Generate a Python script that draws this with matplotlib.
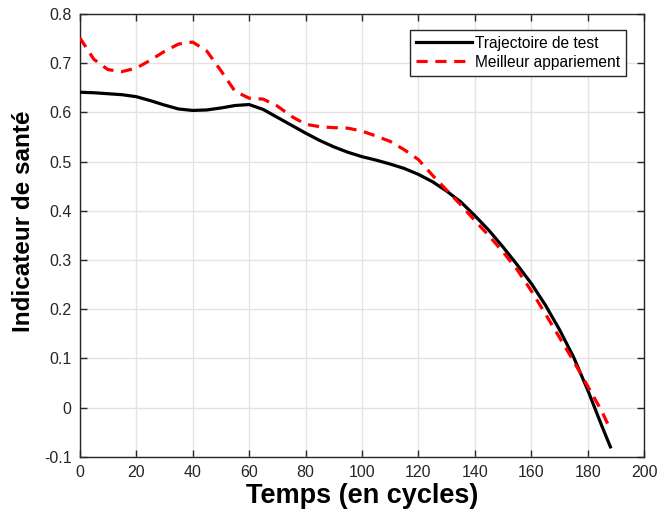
import matplotlib
matplotlib.use("Agg")
import matplotlib.pyplot as plt

plt.rcParams['font.family'] = ['Liberation Sans', 'DejaVu Sans']

x_test = [0, 5, 10, 15, 20, 25, 30, 35, 40, 45, 50, 55, 60, 65, 70, 75, 80, 85, 90, 95,
          100, 105, 110, 115, 120, 125, 130, 135, 140, 145, 150, 155, 160, 165, 170, 175,
          180, 185, 188]
y_test = [0.641, 0.640, 0.638, 0.636, 0.632, 0.624, 0.615, 0.607, 0.604, 0.605, 0.609,
          0.614, 0.616, 0.606, 0.590, 0.574, 0.558, 0.543, 0.530, 0.519, 0.510, 0.503,
          0.495, 0.486, 0.474, 0.459, 0.440, 0.418, 0.390, 0.360, 0.326, 0.290, 0.252,
          0.208, 0.158, 0.102, 0.035, -0.038, -0.080]

x_match = [0, 5, 10, 15, 20, 25, 30, 35, 40, 45, 50, 55, 60, 65, 70, 75, 80, 85, 90, 95,
           100, 105, 110, 115, 120, 125, 130, 135, 140, 145, 150, 155, 160, 165, 170, 175,
           180, 185, 188]
y_match = [0.752, 0.708, 0.687, 0.683, 0.690, 0.706, 0.724, 0.739, 0.743, 0.725, 0.685,
           0.643, 0.629, 0.627, 0.613, 0.592, 0.576, 0.571, 0.569, 0.568, 0.562, 0.552,
           0.541, 0.524, 0.504, 0.472, 0.442, 0.412, 0.380, 0.349, 0.316, 0.280, 0.237,
           0.190, 0.142, 0.094, 0.043, -0.008, -0.045]

xticks = [0, 20, 40, 60, 80, 100, 120, 140, 160, 180, 200]
yticks = [-0.1, 0, 0.1, 0.2, 0.3, 0.4, 0.5, 0.6, 0.7, 0.8]
ytick_labels = ['-0.1', '0', '0.1', '0.2', '0.3', '0.4', '0.5', '0.6', '0.7', '0.8']

fig = plt.figure(figsize=(6.61, 5.2), dpi=100)
ax = fig.add_axes([0.1206, 0.1217, 0.8541, 0.8513])

ax.plot(x_test, y_test, color='black', lw=2.3, label='Trajectoire de test', zorder=3)
ax.plot(x_match, y_match, color='red', lw=2.3, ls=(0, (3.5, 2.4)), label='Meilleur appariement', zorder=3)

ax.set_xlim(0, 200)
ax.set_ylim(-0.1, 0.8)
ax.set_xticks(xticks)
ax.set_yticks(yticks)
ax.set_yticklabels(ytick_labels)
ax.grid(True, color='#e3e3e3', lw=1.0)
ax.set_axisbelow(True)

for s in ax.spines.values():
    s.set_color('#262626')
    s.set_linewidth(1.0)
ax.tick_params(direction='in', top=True, right=True, length=5, width=1.0,
               colors='#262626', labelsize=11.5, pad=6)

ax.set_xlabel('Temps (en cycles)', fontsize=19.5, fontweight='bold', labelpad=2)
ax.set_ylabel('Indicateur de santé', fontsize=17.5, fontweight='bold')
ax.yaxis.set_label_coords(-0.08, 0.533)

leg = ax.legend(loc='upper right', bbox_to_anchor=(0.968, 0.965), fontsize=11.2,
                frameon=True, fancybox=False, edgecolor='#262626', framealpha=1,
                handlelength=3.6, handletextpad=0.2, borderpad=0.4, labelspacing=0.25,
                borderaxespad=0)
leg.get_frame().set_linewidth(1.0)

fig.savefig('out.png', dpi=100)
